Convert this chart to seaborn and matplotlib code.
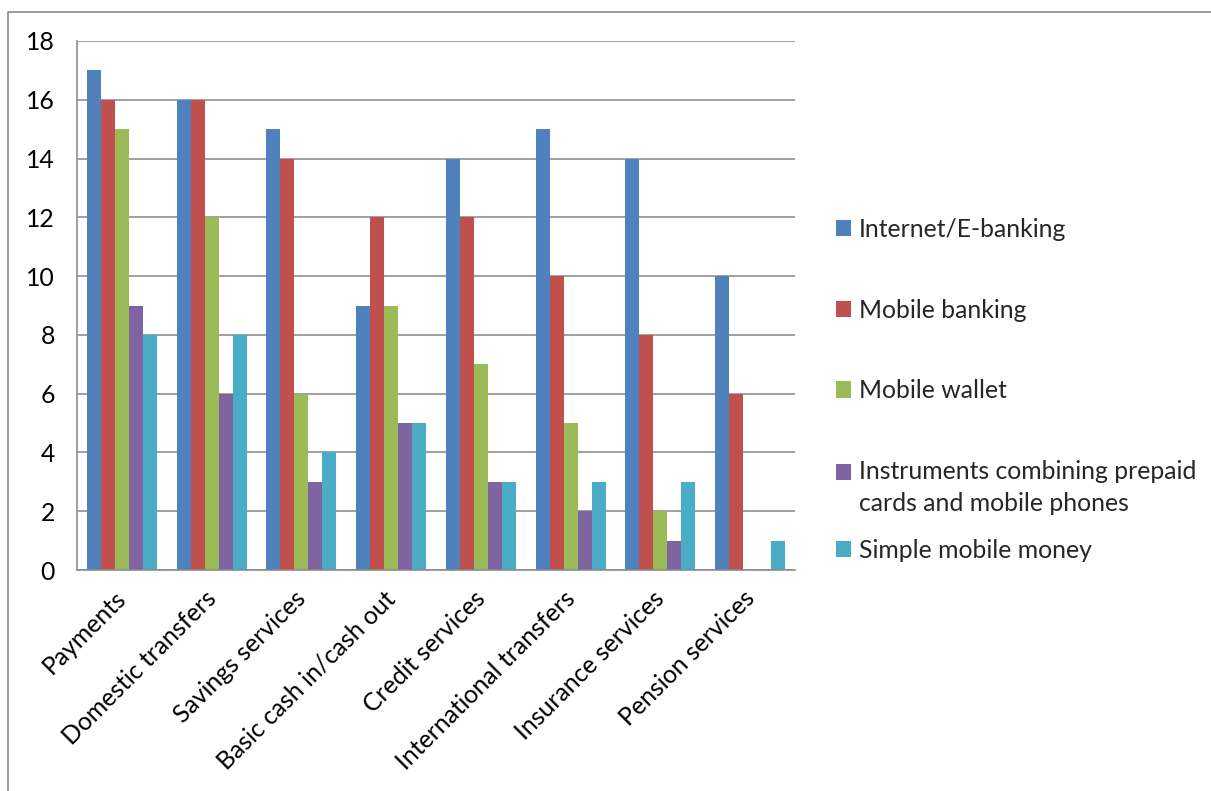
import numpy as np
import pandas as pd
import matplotlib
matplotlib.use("Agg")
import matplotlib.pyplot as plt
from matplotlib.patches import Rectangle
from matplotlib.legend_handler import HandlerPatch
import seaborn as sns

services = ["Payments", "Domestic transfers", "Savings services", "Basic cash in/cash out",
            "Credit services", "International transfers", "Insurance services", "Pension services"]
channels = ["Internet/E-banking", "Mobile banking", "Mobile wallet",
            "Instruments combining prepaid\ncards and mobile phones", "Simple mobile money"]
internet_banking = [17, 16, 15, 9, 14, 15, 14, 10]
mobile_banking = [16, 16, 14, 12, 12, 10, 8, 6]
mobile_wallet = [15, 12, 6, 9, 7, 5, 2, 0]
prepaid_instruments = [9, 6, 3, 5, 3, 2, 1, 0]
simple_mobile_money = [8, 8, 4, 5, 3, 3, 3, 1]
palette = ["#4F81BD", "#C0504D", "#9BBB59", "#8064A2", "#4BACC6"]
y_ticks = [0, 2, 4, 6, 8, 10, 12, 14, 16, 18]

series = [internet_banking, mobile_banking, mobile_wallet, prepaid_instruments, simple_mobile_money]
df = pd.DataFrame(
    [(s, ch, v) for ch, vals in zip(channels, series) for s, v in zip(services, vals)],
    columns=["service", "channel", "count"],
)

sns.set_theme(style="white")
plt.rcParams["font.family"] = ["Lato", "DejaVu Sans"]

W, H = 1211, 791
fs = 17.8
fig = plt.figure(figsize=(W / 100, H / 100), dpi=100)
ax = fig.add_axes([77 / W, 1 - 570 / H, (795 - 77) / W, (570 - 41) / H])

sns.barplot(data=df, x="service", y="count", hue="channel", hue_order=channels,
            palette=palette, saturation=1, width=0.78, linewidth=0, ax=ax, legend=False)

grid_c = "#868686"
ax.set_ylim(0, 18)
ax.set_xlim(-0.5, len(services) - 0.5)
ax.set_yticks(y_ticks)
ax.set_yticklabels([str(t) for t in y_ticks], fontsize=fs, color="black")
ax.yaxis.grid(True, color=grid_c, linewidth=1.1)
ax.set_axisbelow(True)
ax.tick_params(axis="y", length=8, width=1.1, color=grid_c, direction="out", pad=8)

# category labels: rotated text whose right end sits just left of the group centre
label_pos = np.arange(len(services)) - 0.085
ax.set_xticks(label_pos)
ax.set_xticklabels(services, rotation=45, ha="right", rotation_mode="anchor",
                   fontsize=fs, color="black")
ax.set_xticks(np.arange(-0.5, len(services), 1.0), minor=True)
ax.tick_params(axis="x", which="major", length=0, pad=12)
ax.tick_params(axis="x", which="minor", length=8, width=1.1, color=grid_c, direction="out")
ax.set_xlabel("")
ax.set_ylabel("")

for side in ["top", "right"]:
    ax.spines[side].set_visible(False)
for side in ["left", "bottom"]:
    ax.spines[side].set_color(grid_c)
    ax.spines[side].set_linewidth(1.1)

# Legend: swatch for the two-line entry sits beside its first line
line_gap_pt = 23.0

class TopAlignedPatch(HandlerPatch):
    def __init__(self, shift, **kw):
        super().__init__(**kw)
        self.shift = shift

    def create_artists(self, legend, orig_handle, xdescent, ydescent, width, height, fontsize, trans):
        p = Rectangle((-xdescent, -ydescent + self.shift), width, height)
        self.update_prop(p, orig_handle, legend)
        p.set_transform(trans)
        return [p]

handles = [Rectangle((0, 0), 1, 1, facecolor=c, edgecolor="none") for c in palette]
leg_kw = dict(loc="upper left", frameon=False, fontsize=fs, handlelength=0.62, handleheight=0.62,
              handletextpad=0.3, labelspacing=2.33, borderpad=0, borderaxespad=0)
leg_a = fig.legend(handles[:4], channels[:4], bbox_to_anchor=(836 / W, 1 - 218 / H),
                   handler_map={handles[3]: TopAlignedPatch(shift=line_gap_pt / 2)}, **leg_kw)
for t in leg_a.get_texts():
    t.set_linespacing(1.48)
leg_b = fig.legend(handles[4:], channels[4:], bbox_to_anchor=(836 / W, 1 - 539 / H), **leg_kw)

# outer chart border
fig.add_artist(Rectangle((8 / W, -0.05), 1.2, 1 - 12 / H + 0.05, transform=fig.transFigure,
                         fill=False, edgecolor="#8c8c8c", linewidth=1.2))

fig.savefig("out.png", dpi=100, facecolor="white")
